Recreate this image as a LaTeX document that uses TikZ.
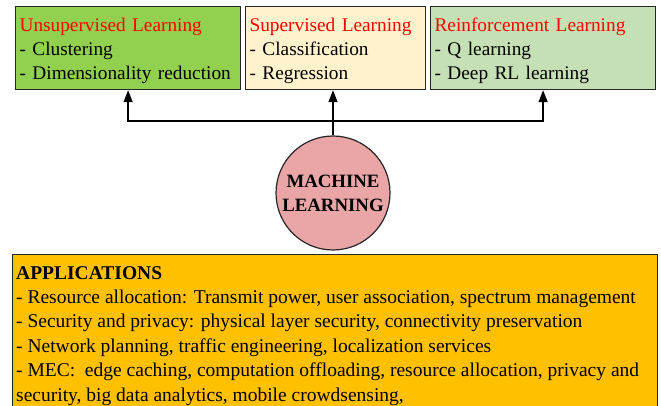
\documentclass[tikz,border=0pt]{standalone}
\usepackage{fontspec}
\setmainfont{Liberation Serif}
\usetikzlibrary{arrows.meta}
\definecolor{unsupfill}{HTML}{92D050}
\definecolor{supfill}{HTML}{FFF2CC}
\definecolor{reinfill}{HTML}{C5E0B4}
\definecolor{mlfill}{HTML}{EAA6A6}
\definecolor{appfill}{HTML}{FFC000}
\definecolor{titlered}{HTML}{FF0000}
\newcommand{\topstrut}{\rule{0pt}{19.5pt}}
\tikzset{
  catbox/.style={draw=black!85, line width=1.2pt, anchor=north west, minimum height=83pt,
    inner xsep=4pt, align=left, font=\fontsize{19.3}{24}\selectfont},
  mlcircle/.style={draw=black!85, line width=1.2pt, circle, fill=mlfill, minimum size=114pt,
    inner sep=0pt, align=center, font=\fontsize{18.8}{24}\selectfont\bfseries},
  appbox/.style={draw=black!85, line width=0.8pt, fill=appfill, anchor=north west,
    minimum width=645pt, minimum height=160pt, inner sep=0pt},
  apptext/.style={anchor=north west, align=left, inner sep=0pt, font=\fontsize{19.5}{24.4}\selectfont},
  conn/.style={line width=1.5pt, black},
  arr/.style={conn, -{Triangle[length=12pt,width=9pt]}}
}
\begin{document}
\begin{tikzpicture}[x=1pt,y=-1pt]
\useasboundingbox (0,0) rectangle (661,406);
\node[catbox, fill=unsupfill, minimum width=225pt, text width=217pt] (unsup) at (15,6)
  {\topstrut\textcolor{titlered}{Unsupervised Learning}\\- Clustering\\- Dimensionality reduction};
\node[catbox, fill=supfill, minimum width=180pt, text width=172pt] (sup) at (245,6)
  {\topstrut\textcolor{titlered}{Supervised Learning}\\- Classification\\- Regression};
\node[catbox, fill=reinfill, minimum width=225pt, text width=217pt] (rein) at (430,6)
  {\topstrut\textcolor{titlered}{Reinforcement Learning}\\- Q learning\\- Deep RL learning};
\node[mlcircle] (ml) at (333,193) {MACHINE\\LEARNING};
\coordinate (j) at (333,121);
\draw[conn] (ml.north) -- (j);
\draw[arr] (j) -- (j |- sup.south);
\draw[arr] (j) -| (unsup.south);
\draw[arr] (j) -| (rein.south);
\node[appbox] (app) at (12,254) {};
\node[apptext] (apptxt) at (16,266) {\textbf{APPLICATIONS}\\
- Resource allocation: Transmit power, user association, spectrum management\\
- Security and privacy: physical layer security, connectivity preservation\\
- Network planning, traffic engineering, localization services\\
- MEC:\ \ edge caching, computation offloading, resource allocation, privacy and\\
security, big data analytics, mobile crowdsensing,};
\end{tikzpicture}
\end{document}
